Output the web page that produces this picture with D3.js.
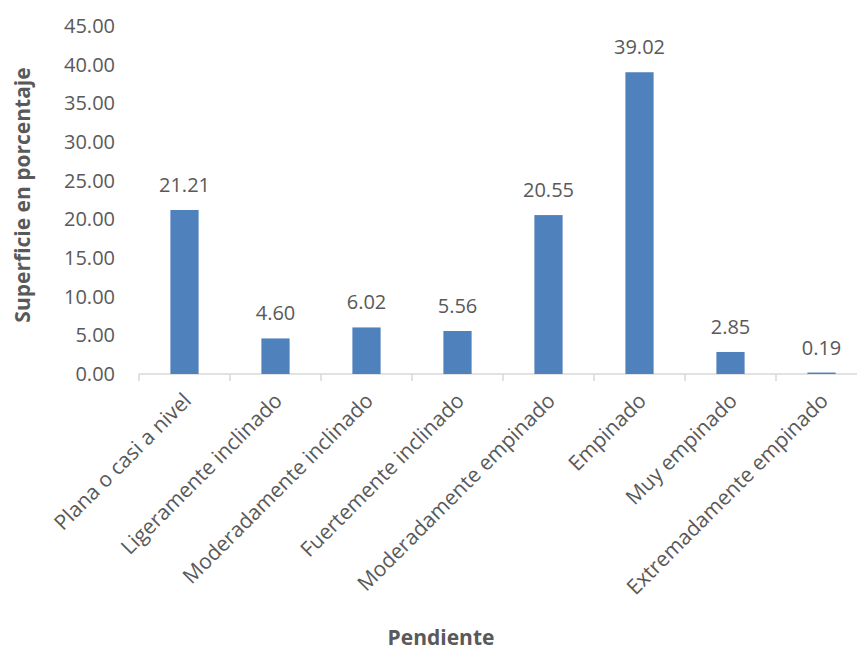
<!DOCTYPE html>
<html>
<head>
<meta charset="utf-8">
<script src="https://cdn.jsdelivr.net/npm/d3@7"></script>
<style>
  body { margin: 0; background: #fff; }
  text { font-family: "Open Sans", sans-serif; fill: #595959; }
</style>
</head>
<body>
<div id="chart"></div>
<script>
// Data
var categories = [
  "Plana o casi a nivel",
  "Ligeramente inclinado",
  "Moderadamente inclinado",
  "Fuertemente inclinado",
  "Moderadamente empinado",
  "Empinado",
  "Muy empinado",
  "Extremadamente empinado"
];
var values = [21.21, 4.60, 6.02, 5.56, 20.55, 39.02, 2.85, 0.19];
var yTicks = [0, 5, 10, 15, 20, 25, 30, 35, 40, 45];

var svgWidth = 857;
var svgHeight = 653;

var margin = { top: 26, right: -10, bottom: 279, left: 139 };
var chartWidth = svgWidth - margin.left - margin.right;
var chartHeight = svgHeight - margin.top - margin.bottom;

var svg = d3.select("#chart").append("svg")
  .attr("width", svgWidth)
  .attr("height", svgHeight);

var chartGroup = svg.append("g")
  .attr("transform", `translate(${margin.left}, ${margin.top})`);

var xScale = d3.scaleBand()
  .domain(categories)
  .range([0, chartWidth])
  .paddingInner(0.69)
  .paddingOuter(0.345);

var band = d3.scaleBand().domain(categories).range([0, chartWidth]);

var yScale = d3.scaleLinear()
  .domain([0, 45])
  .range([chartHeight, 0]);

// y axis labels only (no line, no ticks)
var leftAxis = d3.axisLeft(yScale)
  .tickValues(yTicks)
  .tickFormat(d3.format(".2f"))
  .tickSize(0)
  .tickPadding(24);

var yAxisG = chartGroup.append("g").call(leftAxis);
yAxisG.select(".domain").remove();
yAxisG.selectAll("text")
  .style("font-size", "20px")
  .attr("fill", "#595959")
  .style("font-family", "'Open Sans', sans-serif");

// x axis line with ticks at category boundaries
var xAxisG = chartGroup.append("g")
  .attr("transform", `translate(0, ${chartHeight})`);
xAxisG.append("line")
  .attr("x1", 0).attr("x2", chartWidth)
  .attr("y1", 0).attr("y2", 0)
  .attr("stroke", "#d9d9d9").attr("stroke-width", 1.5);
xAxisG.selectAll(".tickline")
  .data(categories)
  .enter()
  .append("line")
  .attr("x1", d => band(d)).attr("x2", d => band(d))
  .attr("y1", 0).attr("y2", 7)
  .attr("stroke", "#d9d9d9").attr("stroke-width", 1.5);

xAxisG.selectAll(".xlabel")
  .data(categories)
  .enter()
  .append("text")
  .attr("text-anchor", "end")
  .attr("transform", d => `translate(${band(d) + band.bandwidth() / 2 + 8}, 28) rotate(-45)`)
  .style("font-size", "21px")
  .text(d => d);

// bars
chartGroup.selectAll("rect")
  .data(values)
  .enter()
  .append("rect")
  .attr("x", (d, i) => xScale(categories[i]))
  .attr("y", d => yScale(d))
  .attr("width", xScale.bandwidth())
  .attr("height", d => chartHeight - yScale(d))
  .attr("fill", "#4f81bd");

// value labels
chartGroup.selectAll(".vlabel")
  .data(values)
  .enter()
  .append("text")
  .attr("text-anchor", "middle")
  .attr("x", (d, i) => xScale(categories[i]) + xScale.bandwidth() / 2)
  .attr("y", d => yScale(d) - 18)
  .style("font-size", "20px")
  .text(d => d3.format(".2f")(d));

// axis titles
svg.append("text")
  .attr("transform", "translate(30, 195) rotate(-90)")
  .attr("text-anchor", "middle")
  .style("font-size", "21px")
  .style("font-weight", "bold")
  .text("Superficie en porcentaje");

svg.append("text")
  .attr("x", 441)
  .attr("y", 645)
  .attr("text-anchor", "middle")
  .style("font-size", "21px")
  .style("font-weight", "bold")
  .text("Pendiente");
</script>
</body>
</html>
